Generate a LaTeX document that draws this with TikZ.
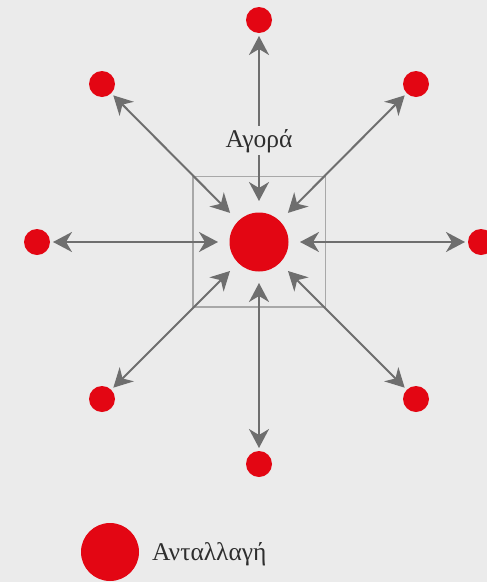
\documentclass[tikz,border=0pt]{standalone}
\usepackage{fontspec}
\setmainfont{Liberation Serif}
\usetikzlibrary{arrows.meta}
\definecolor{bg}{HTML}{EBEBEB}
\definecolor{dotred}{HTML}{E30613}
\definecolor{arrgray}{HTML}{6E6E6E}
\definecolor{boxgray}{HTML}{A8A8A8}
\definecolor{txt}{HTML}{2E2E2E}
\tikzset{
  outer/.style={circle,fill=dotred,minimum size=26pt,inner sep=0pt,outer sep=3pt},
  center/.style={circle,fill=dotred,minimum size=59pt,inner sep=0pt,outer sep=11.5pt},
  arr/.style={draw=arrgray,line width=2pt,
    {Stealth[length=19pt,width=20pt,inset=6pt]}-{Stealth[length=19pt,width=20pt,inset=6pt]}},
  lbl/.style={font=\fontsize{25.5}{30}\selectfont,text=txt,inner sep=0pt}
}
\begin{document}
\begin{tikzpicture}[x=1pt,y=-1pt]
\fill[bg] (0,0) rectangle (487,582);
\useasboundingbox (0,0) rectangle (487,582);
\clip (0,0) rectangle (487,582);
\draw[boxgray,line width=1.5pt] (193,176.5) rectangle (325.5,307);
\node[center] (c) at (259,242) {};
\node[outer] (n) at (259,20) {};
\node[outer] (ne) at (416,84) {};
\node[outer] (e) at (481,242) {};
\node[outer] (se) at (416,399) {};
\node[outer] (s) at (259,464) {};
\node[outer] (sw) at (102,399) {};
\node[outer] (w) at (37,242) {};
\node[outer] (nw) at (102,84) {};
\foreach \o in {n,ne,e,se,s,sw,w,nw}{\draw[arr] (\o) -- (c);}
\node[lbl,fill=bg,anchor=base,inner ysep=3pt,inner xsep=2pt] (agora) at (259,147) {Αγορά};
\node[circle,fill=dotred,minimum size=58pt,inner sep=0pt] (leg) at (110,552) {};
\node[lbl,anchor=base west] (legtext) at (152,560) {Ανταλλαγή};
\end{tikzpicture}
\end{document}
